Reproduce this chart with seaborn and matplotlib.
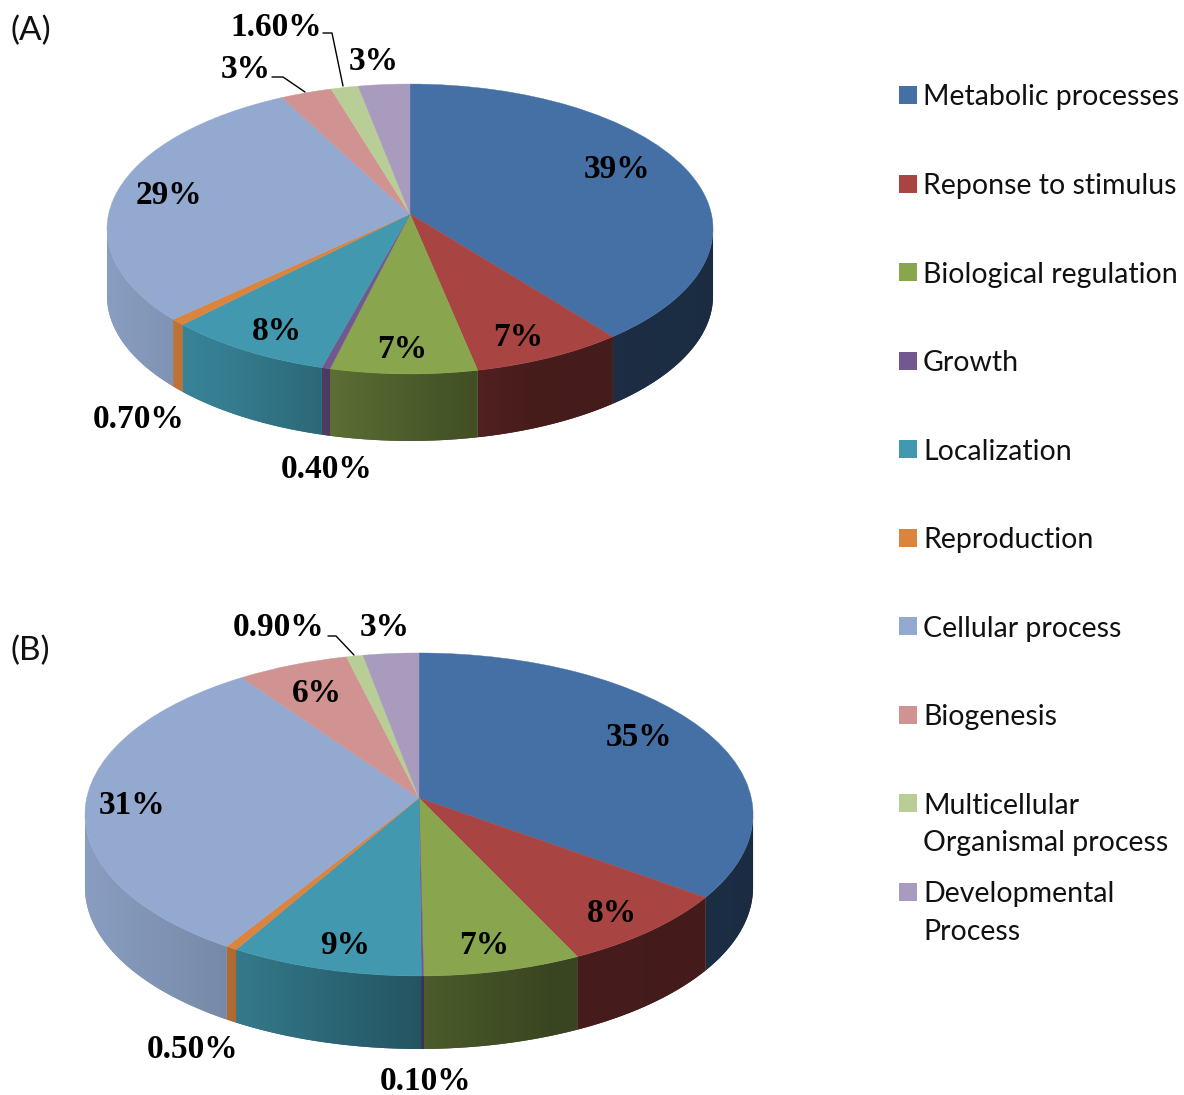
import matplotlib
matplotlib.use("Agg")
import matplotlib.pyplot as plt
from matplotlib.patches import Polygon
from matplotlib.transforms import Transform
import seaborn as sns
import numpy as np

categories = ["Metabolic processes", "Reponse to stimulus", "Biological regulation", "Growth",
              "Localization", "Reproduction", "Cellular process", "Biogenesis",
              "Multicellular\nOrganismal process", "Developmental\nProcess"]
hex_colors = ["#4570A6", "#A84442", "#89A54E", "#71588F", "#4198AF",
              "#DB843D", "#93A9CF", "#D19392", "#B9CD96", "#A99BBD"]
# slice sizes as measured on the picture, the printed labels are rounded
values_a = [39, 7.3, 7, 0.4, 8, 0.7, 29, 3, 1.6, 3]
values_b = [35.3, 8, 7, 0.1, 8.55, 0.5, 31.65, 6, 0.9, 3]
labels_a = ["39%", "7%", "7%", "0.40%", "8%", "0.70%", "29%", "3%", "1.60%", "3%"]
labels_b = ["35%", "8%", "7%", "0.10%", "9%", "0.50%", "31%", "6%", "0.90%", "3%"]

# label centres in figure pixels
pos_a = [(617, 170), (518, 337), (402, 350), (327, 469), (277, 332),
         (139, 419), (169, 196), (246, 69), (276, 27), (374, 61)]
pos_b = [(639, 738), (612, 914), (484, 946), (426, 1081), (345, 946),
         (193, 1050), (132, 806), (317, 693), (279, 628), (385, 628)]

# shading of the side wall, from left edge to right edge of the disc
shade_x = [-1, -0.6, -0.15, 0.1, 0.4, 1]
shade_k = [0.93, 0.82, 0.62, 0.52, 0.42, 0.40]

sns.set_style("white")
palette = sns.color_palette(hex_colors)


class Tilt(Transform):
    # unit disc -> tilted disc in pixels, near edge bigger than far edge
    input_dims = 2
    output_dims = 2

    def __init__(self, cx, cy, b, a, k):
        super().__init__()
        self.p = (cx, cy, b, a, k)

    def transform_non_affine(self, xy):
        cx, cy, b, a, k = self.p
        xy = np.asarray(xy, dtype=float)
        w = 1 + k * xy[:, 1]
        return np.column_stack([cx + xy[:, 0] * b / w, cy - xy[:, 1] * a / w])


def draw_pie(ax, values, cx, cy, b, a, k, depth):
    tilt = Tilt(cx, cy, b, a, k)

    # side wall, one clipped gradient per slice so the shade runs along the rim
    edges = np.cumsum([0] + list(values)) / np.sum(values) * 2 * np.pi
    for i, col in enumerate(palette):
        t = np.linspace(edges[i], edges[i + 1], 200)
        t = t[np.cos(t) < -k]  # only the rim below the widest point shows
        if len(t) < 2:
            continue
        rim = tilt.transform_non_affine(np.column_stack([np.sin(t), np.cos(t)]))
        low = rim + [0, depth]
        outline = np.vstack([rim, low[::-1]])
        x0, x1 = outline[:, 0].min(), outline[:, 0].max()
        y0, y1 = outline[:, 1].min(), outline[:, 1].max()
        f = np.interp((np.linspace(x0, x1, 64) - cx) / b, shade_x, shade_k)
        grad = np.outer(f, col)[None, :, :]
        patch = Polygon(outline, closed=True, fc=tuple(c * f.mean() for c in col), ec="none", zorder=1)
        ax.add_patch(patch)
        im = ax.imshow(grad, extent=(x0, x1, y1, y0), aspect="auto", interpolation="bilinear", zorder=1.5)
        im.set_clip_path(patch)

    wedges, _ = ax.pie(values, colors=palette, startangle=90, counterclock=False)
    for w in wedges:
        w.set_transform(tilt + ax.transData)
        w.set_zorder(2)
        w.set_edgecolor(w.get_facecolor())
        w.set_linewidth(0.3)


fig = plt.figure(figsize=(11.84, 10.95), dpi=100)
ax = fig.add_axes([0, 0, 1, 1])

draw_pie(ax, values_a, 410, 214, 301.4, 143.4, 0.1034, 67)
draw_pie(ax, values_b, 419, 798, 332.3, 159.8, 0.102, 73)

ax.set_aspect("auto")
ax.set_xlim(0, 1184)
ax.set_ylim(1095, 0)
ax.set_axis_off()

for txt, (x, y) in zip(labels_a + labels_b, pos_a + pos_b):
    ax.text(x, y, txt, ha="center", va="center", fontsize=24, fontweight="bold",
            family="Liberation Serif", color="black", zorder=5)

# leader lines
ax.plot([272, 283, 305], [77, 77, 92], color="black", lw=1, zorder=4)
ax.plot([323, 332, 343], [33, 33, 86], color="black", lw=1, zorder=4)
ax.plot([328, 336, 354], [636, 636, 655], color="black", lw=1, zorder=4)

ax.text(10, 31, "(A)", ha="left", va="center", fontsize=24, family="Lato", color="#111111")
ax.text(10, 651, "(B)", ha="left", va="center", fontsize=24, family="Lato", color="#111111")

# legend
for i, (name, col) in enumerate(zip(categories, palette)):
    y = 95 + 88.5 * i
    ax.scatter([907.5], [y], marker="s", s=150, color=col, linewidths=0, zorder=5)
    for n, line in enumerate(name.split("\n")):
        ax.text(923, y + 38 * n, line, ha="left", va="center_baseline", fontsize=20.5,
                family="Lato", color="#111111", zorder=5)

fig.savefig("out.png", dpi=100)
